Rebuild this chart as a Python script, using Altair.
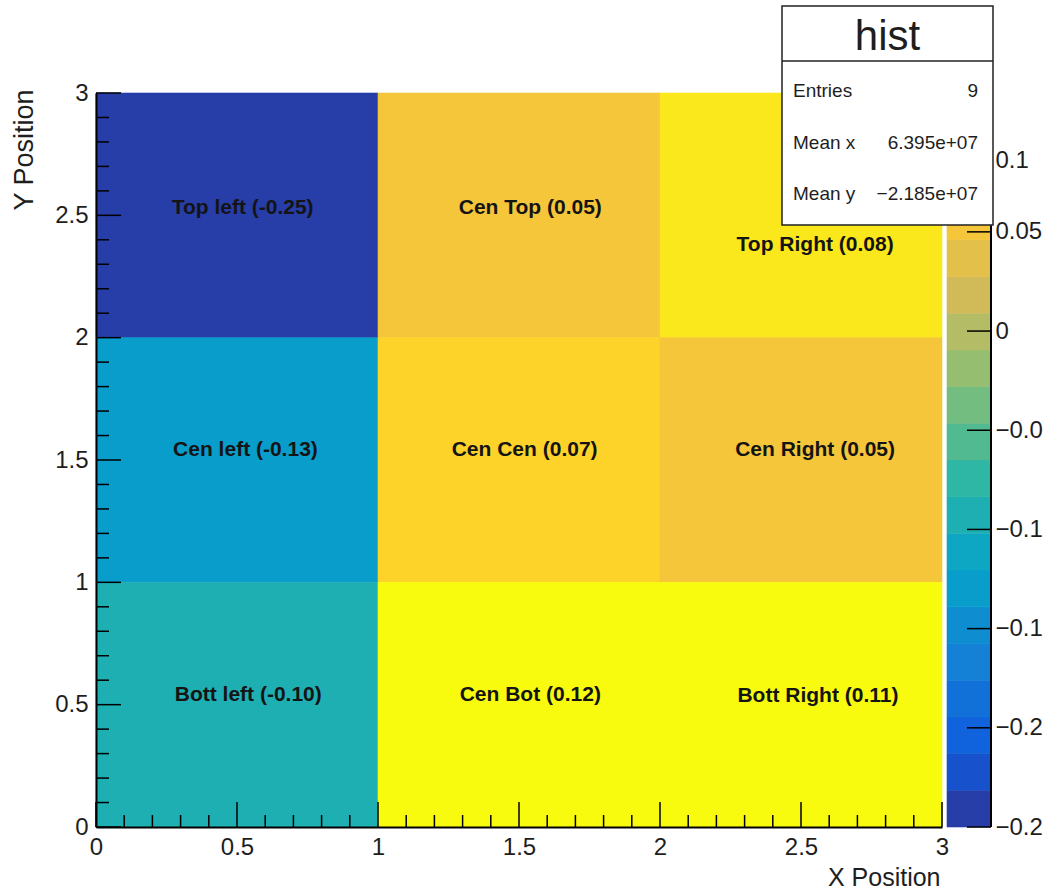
import altair as alt
import pandas as pd

# ---------------- data ----------------
cell_x = [0, 1, 2, 0, 1, 2, 0, 1, 2]
cell_y = [2, 2, 2, 1, 1, 1, 0, 0, 0]
# Top Right is labelled 0.08 but its colour sits one contour above Cen Cen (0.07)
cell_value = [-0.25, 0.05, 0.084, -0.13, 0.07, 0.05, -0.10, 0.12, 0.11]
cell_label = ["Top left (-0.25)", "Cen Top (0.05)", "Top Right (0.08)",
              "Cen left (-0.13)", "Cen Cen (0.07)", "Cen Right (0.05)",
              "Bott left (-0.10)", "Cen Bot (0.12)", "Bott Right (0.11)"]
label_x = [0.52, 1.54, 2.55, 0.53, 1.52, 2.55, 0.54, 1.54, 2.56]
label_y = [2.53, 2.53, 2.38, 1.54, 1.54, 1.54, 0.54, 0.54, 0.535]

x_major = [0, 0.5, 1, 1.5, 2, 2.5, 3]
y_major = [0, 0.5, 1, 1.5, 2, 2.5, 3]
minor_ticks = [0.1, 0.2, 0.3, 0.4, 0.6, 0.7, 0.8, 0.9, 1.1, 1.2, 1.3, 1.4, 1.6, 1.7, 1.8, 1.9,
               2.1, 2.2, 2.3, 2.4, 2.6, 2.7, 2.8, 2.9]
z_ticks = [-0.25, -0.2, -0.15, -0.1, -0.05, 0, 0.05, 0.1]
z_min, z_max = -0.25, 0.12
n_contours = 20

stats_title = "hist"
stats_names = ["Entries", "Mean x", "Mean y"]
stats_values = ["9", "6.395e+07", "\u22122.185e+07"]

# ---------------- ROOT kBird palette ----------------
stops = [0.0, 0.125, 0.25, 0.375, 0.5, 0.625, 0.75, 0.875, 1.0]
reds = [0.2082, 0.0592, 0.0780, 0.0232, 0.1802, 0.5301, 0.8186, 0.9956, 0.9764]
greens = [0.1664, 0.3599, 0.5041, 0.6419, 0.7178, 0.7492, 0.7328, 0.7862, 0.9832]
blues = [0.5293, 0.8684, 0.8385, 0.7914, 0.6425, 0.4662, 0.3499, 0.1968, 0.0539]


def bird(t):
    for i in range(len(stops) - 1):
        if t <= stops[i + 1]:
            f = (t - stops[i]) / (stops[i + 1] - stops[i])
            r = reds[i] + (reds[i + 1] - reds[i]) * f
            g = greens[i] + (greens[i + 1] - greens[i]) * f
            b = blues[i] + (blues[i + 1] - blues[i]) * f
            return "#%02x%02x%02x" % (round(r * 255), round(g * 255), round(b * 255))
    return "#%02x%02x%02x" % (round(reds[-1] * 255), round(greens[-1] * 255), round(blues[-1] * 255))


band_colors = [bird(int((b + 0.99) * 255 / n_contours) / 254) for b in range(n_contours)]

# ---------------- tables ----------------
cells = pd.DataFrame({"x": cell_x, "y": cell_y, "value": cell_value,
                      "label": cell_label, "lx": label_x, "ly": label_y})
cells["x2"] = cells["x"] + 1
cells["y2"] = cells["y"] + 1

step = (z_max - z_min) / n_contours
bands = pd.DataFrame({"lo": [z_min + i * step for i in range(n_contours)]})
bands["hi"] = bands["lo"] + step
bands["mid"] = bands["lo"] + step / 2

W, H = 846, 734
CW = 44
FONT = "Liberation Sans"
INK = "#1e1e1e"

xs = alt.Scale(domain=[0, 3], nice=False, zero=False)
ys = alt.Scale(domain=[0, 3], nice=False, zero=False)
zs = alt.Scale(domain=[z_min, z_max], nice=False, zero=False)
cs = alt.Scale(type="quantize", domain=[z_min, z_max], range=band_colors)

x_axis = alt.Axis(values=x_major, format="~g", labelFlush=False, ticks=False, grid=False,
                  domainColor="black", domainWidth=2, zindex=1,
                  labelFont=FONT, labelFontSize=24, labelColor=INK, labelPadding=8,
                  title="X Position", titleFont=FONT, titleFontSize=25,
                  titleFontWeight="normal", titleColor=INK, titleAnchor="end",
                  titleAlign="right", titleBaseline="middle", titleX=W - 2, titleY=50)
y_axis = alt.Axis(values=y_major, format="~g", ticks=False, grid=False,
                  domainColor="black", domainWidth=2, zindex=1,
                  labelFont=FONT, labelFontSize=24, labelColor=INK, labelPadding=8,
                  title="Y Position", titleFont=FONT, titleFontSize=27,
                  titleFontWeight="normal", titleColor=INK, titleAnchor="end",
                  titleAngle=270, titleAlign="right", titleBaseline="middle",
                  titleX=-72, titleY=-4)

heat = alt.Chart(cells).mark_rect(strokeWidth=0.6).encode(
    x=alt.X("x:Q", scale=xs, axis=x_axis),
    x2="x2:Q",
    y=alt.Y("y:Q", scale=ys, axis=y_axis),
    y2="y2:Q",
    color=alt.Color("value:Q", scale=cs, legend=None),
    stroke=alt.Stroke("value:Q", scale=cs, legend=None),
)

texts = alt.Chart(cells).mark_text(font=FONT, fontSize=21, fontWeight="bold", color="#141414").encode(
    x=alt.X("lx:Q", scale=xs, axis=x_axis),
    y=alt.Y("ly:Q", scale=ys, axis=y_axis),
    text="label:N",
)

xmaj = alt.Chart(pd.DataFrame({"v": x_major})).mark_rule(color="black", strokeWidth=1.5).encode(
    x=alt.X("v:Q", scale=xs, axis=x_axis), y=alt.value(H), y2=alt.value(H - 25))
xmin = alt.Chart(pd.DataFrame({"v": minor_ticks})).mark_rule(color="black", strokeWidth=1.5).encode(
    x=alt.X("v:Q", scale=xs, axis=x_axis), y=alt.value(H), y2=alt.value(H - 12))
ymaj = alt.Chart(pd.DataFrame({"v": y_major})).mark_rule(color="black", strokeWidth=1.5).encode(
    y=alt.Y("v:Q", scale=ys, axis=y_axis), x=alt.value(0), x2=alt.value(25))
ymin = alt.Chart(pd.DataFrame({"v": minor_ticks})).mark_rule(color="black", strokeWidth=1.5).encode(
    y=alt.Y("v:Q", scale=ys, axis=y_axis), x=alt.value(0), x2=alt.value(13))

main = alt.layer(heat, texts, xmaj, xmin, ymaj, ymin).properties(width=W, height=H)

# ---------------- colour bar + stats box ----------------
# labels are cut at the right edge of the canvas in the reference (e.g. "-0.05" shows as "-0.0")
z_axis = alt.Axis(orient="right", values=z_ticks,
                  labelExpr="slice(format(datum.value, '~g'), 0, 4)",
                  ticks=False, domain=False, grid=False, title=None,
                  labelFont=FONT, labelFontSize=24, labelColor=INK, labelPadding=4,
                  labelOffset={"condition": {"test": "datum.value > 0.09", "value": 28}, "value": 0})

cbar = alt.Chart(bands).mark_rect(strokeWidth=0.6).encode(
    y=alt.Y("lo:Q", scale=zs, axis=z_axis),
    y2="hi:Q",
    x=alt.value(0), x2=alt.value(CW),
    color=alt.Color("mid:Q", scale=cs, legend=None),
    stroke=alt.Stroke("mid:Q", scale=cs, legend=None),
)
zt = alt.Chart(pd.DataFrame({"v": z_ticks})).mark_rule(color="black", strokeWidth=1.5).encode(
    y=alt.Y("v:Q", scale=zs, axis=z_axis), x=alt.value(CW - 24), x2=alt.value(CW))
zedge = alt.Chart(pd.DataFrame({"lo": [z_min], "hi": [z_max]})).mark_rule(
    color="black", strokeWidth=2).encode(
    y=alt.Y("lo:Q", scale=zs, axis=z_axis), y2="hi:Q", x=alt.value(CW))

BX0, BX1, BY0, BY1 = -165, CW + 2, -87, 132
one = pd.DataFrame({"k": [0]})
box = alt.Chart(one).mark_rect(fill="white", stroke="#222", strokeWidth=1.5).encode(
    x=alt.value(BX0), x2=alt.value(BX1), y=alt.value(BY0), y2=alt.value(BY1))
sep = alt.Chart(one).mark_rule(color="#222", strokeWidth=1.5).encode(
    x=alt.value(BX0), x2=alt.value(BX1), y=alt.value(-32))
title_t = alt.Chart(pd.DataFrame({"t": [stats_title]})).mark_text(
    font=FONT, fontSize=42, color=INK, align="center", baseline="alphabetic").encode(
    text="t:N", x=alt.value((BX0 + BX1) / 2), y=alt.value(-43))

row_base = [4, 56, 107]
rows = []
for name, val, yb in zip(stats_names, stats_values, row_base):
    rows.append(alt.Chart(pd.DataFrame({"t": [name]})).mark_text(
        font=FONT, fontSize=19, color=INK, align="left", baseline="alphabetic").encode(
        text="t:N", x=alt.value(-154), y=alt.value(yb)))
    rows.append(alt.Chart(pd.DataFrame({"t": [val]})).mark_text(
        font=FONT, fontSize=19, color=INK, align="right", baseline="alphabetic").encode(
        text="t:N", x=alt.value(31), y=alt.value(yb)))

side = alt.layer(cbar, zt, zedge, box, sep, title_t, *rows).properties(width=CW, height=H)

chart = alt.hconcat(main, side, spacing=5, bounds="flush").properties(
    padding={"left": 10, "top": 5, "right": 2, "bottom": 0},
    background="white",
).configure_view(strokeWidth=0)

chart.save("out.html", embed_options={"renderer": "svg", "actions": False})
